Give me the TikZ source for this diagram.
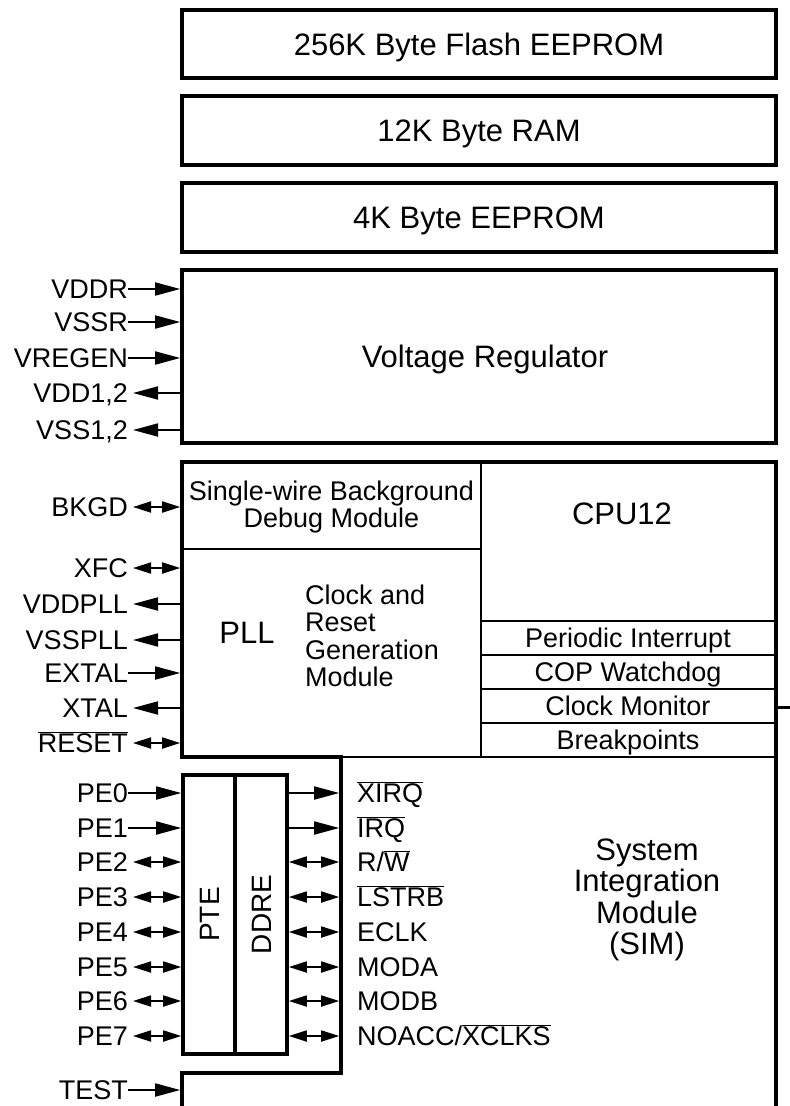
\documentclass[tikz,border=0pt]{standalone}
\usepackage{fontspec}
\setmainfont{Liberation Sans}
\usetikzlibrary{arrows.meta}
\begin{document}
\begin{tikzpicture}[x=1pt,y=-1pt,
  thickbox/.style={draw, line width=3.6pt, inner sep=0pt},
  thinln/.style={line width=2pt},
  outline/.style={line width=3.6pt, line join=miter},
  big/.style={font=\fontsize{31}{31}\selectfont, inner sep=0pt, text height=22.2pt, text depth=0pt},
  sml/.style={font=\fontsize{27}{27}\selectfont, inner sep=0pt, text height=19.3pt, text depth=0pt},
  multi/.style={font=\fontsize{27}{27.5}\selectfont, inner sep=0pt},
  lbl/.style={sml, anchor=east},
  rlbl/.style={sml, anchor=west},
  inarr/.style={line width=1.8pt, -{Triangle[length=25pt,width=13pt]}},
  dblarr/.style={line width=1.8pt, {Triangle[length=18pt,width=11pt]}-{Triangle[length=18pt,width=11pt]}, shorten <=5pt}
]
\useasboundingbox (0,0) rectangle (790,1106);

% memory boxes
\node[thickbox, big, minimum width=594pt, minimum height=68pt] (flash) at (479,44) {256K Byte Flash EEPROM};
\node[thickbox, big, minimum width=594pt, minimum height=69pt] (ram) at (479,130.5) {12K Byte RAM};
\node[thickbox, big, minimum width=594pt, minimum height=69pt] (eeprom) at (479,217.5) {4K Byte EEPROM};
\node[thickbox, minimum width=594pt, minimum height=173pt] (vreg) at (479,356.5) {};
\node[big] (vregtxt) at (485,356.5) {Voltage Regulator};

% voltage regulator pins
\node[lbl] (vddr) at (128,289) {VDDR};
\node[lbl] (vssr) at (128,322) {VSSR};
\node[lbl] (vregen) at (128,358) {VREGEN};
\node[lbl] (vdd) at (128,393) {VDD1,2};
\node[lbl] (vss) at (128,430) {VSS1,2};
\draw[inarr] (vddr.east) -- (vddr.east -| vreg.west);
\draw[inarr] (vssr.east) -- (vssr.east -| vreg.west);
\draw[inarr] (vregen.east) -- (vregen.east -| vreg.west);
\draw[inarr, shorten >=5pt] (vdd.east -| vreg.west) -- (vdd.east);
\draw[inarr, shorten >=5pt] (vss.east -| vreg.west) -- (vss.east);

% main block outline
\coordinate (mtl) at (182,462);
\coordinate (mtr) at (776,462);
\coordinate (mbr) at (776,1106);
\coordinate (mw) at (180.2,600);
\coordinate (simw) at (339.2,900);
\coordinate (stub) at (790,707);
\draw[outline] (182,1106) -- (182,1073) -- (341,1073) -- (341,757) -- (182,757) -- (mtl) -- (mtr) -- (mbr);
\draw[line width=3pt] (776,707) -- (stub);

% inner lines
\draw[thinln] (182,549) -- (481,549);
\draw[thinln] (481,462) -- (481,757);
\foreach \yy in {621,655,689,723} \draw[thinln] (481,\yy) -- (776,\yy);
\draw[thinln] (341,757) -- (776,757);

% region texts
\node[multi, align=center] (dbg) at (331.5,507) {Single-wire Background\\Debug Module};
\node[big] (cpu) at (622,513) {CPU12};
\node[big] (pll) at (247,632) {PLL};
\node[multi, align=left, anchor=west] (crg) at (305,636) {Clock and\\Reset\\Generation\\Module};
\node[sml] (pit) at (628,638) {Periodic Interrupt};
\node[sml] (cop) at (628,672) {COP Watchdog};
\node[sml] (cmon) at (628,706) {Clock Monitor};
\node[sml] (bkpt) at (628,740) {Breakpoints};
\node[font=\fontsize{31}{31.5}\selectfont, inner sep=0pt, align=center] (sim) at (647,900) {System\\Integration\\Module\\(SIM)};

% main block pins
\node[lbl] (bkgd) at (128,507) {BKGD};
\node[lbl] (xfc) at (128,568) {XFC};
\node[lbl] (vddpll) at (128,604) {VDDPLL};
\node[lbl] (vsspll) at (128,640) {VSSPLL};
\node[lbl] (extal) at (128,673) {EXTAL};
\node[lbl] (xtal) at (128,708) {XTAL};
\node[lbl] (reset) at (128,743) {$\overline{\mbox{RESET}}$};
\draw[dblarr] (bkgd.east) -- (bkgd.east -| mw);
\draw[dblarr] (xfc.east) -- (xfc.east -| mw);
\draw[inarr, shorten >=5pt] (vddpll.east -| mw) -- (vddpll.east);
\draw[inarr, shorten >=5pt] (vsspll.east -| mw) -- (vsspll.east);
\draw[inarr] (extal.east) -- (extal.east -| mw);
\draw[inarr, shorten >=5pt] (xtal.east -| mw) -- (xtal.east);
\draw[dblarr] (reset.east) -- (reset.east -| mw);

% port E
\node[thickbox, minimum width=52pt, minimum height=279pt] (pte) at (209,914.5) {};
\node[thickbox, minimum width=52pt, minimum height=279pt] (ddre) at (261,914.5) {};
\node[font=\fontsize{28}{28}\selectfont, inner sep=0pt, text height=20pt, text depth=0pt, rotate=90] (ptetxt) at (pte.center) {PTE};
\node[font=\fontsize{28}{28}\selectfont, inner sep=0pt, text height=20pt, text depth=0pt, rotate=90] (ddretxt) at (ddre.center) {DDRE};

\node[lbl] (pe0) at (128,793) {PE0};
\node[lbl] (pe1) at (128,828) {PE1};
\node[lbl] (pe2) at (128,862) {PE2};
\node[lbl] (pe3) at (128,897) {PE3};
\node[lbl] (pe4) at (128,932) {PE4};
\node[lbl] (pe5) at (128,967) {PE5};
\node[lbl] (pe6) at (128,1001) {PE6};
\node[lbl] (pe7) at (128,1036) {PE7};
\node[lbl] (test) at (128,1090) {TEST};
\draw[inarr] (pe0.east) -- (pe0.east -| pte.west);
\draw[inarr] (pe1.east) -- (pe1.east -| pte.west);
\draw[dblarr] (pe2.east) -- (pe2.east -| pte.west);
\draw[dblarr] (pe3.east) -- (pe3.east -| pte.west);
\draw[dblarr] (pe4.east) -- (pe4.east -| pte.west);
\draw[dblarr] (pe5.east) -- (pe5.east -| pte.west);
\draw[dblarr] (pe6.east) -- (pe6.east -| pte.west);
\draw[dblarr] (pe7.east) -- (pe7.east -| pte.west);
\draw[inarr] (test.east) -- (test.east -| mw);

% SIM signals
\node[rlbl] (xirq) at (357,793) {$\overline{\mbox{XIRQ}}$};
\node[rlbl] (irq) at (357,828) {$\overline{\mbox{IRQ}}$};
\node[rlbl] (rw) at (357,862) {R/$\overline{\mbox{W}}$};
\node[rlbl] (lstrb) at (357,897) {$\overline{\mbox{LSTRB}}$};
\node[rlbl] (eclk) at (357,932) {ECLK};
\node[rlbl] (moda) at (357,967) {MODA};
\node[rlbl] (modb) at (357,1001) {MODB};
\node[rlbl] (noacc) at (357,1036) {NOACC/$\overline{\mbox{XCLKS}}$};
\draw[inarr] (xirq.west -| ddre.east) -- (xirq.west -| simw);
\draw[inarr] (irq.west -| ddre.east) -- (irq.west -| simw);
\draw[dblarr, shorten <=0pt] (rw.west -| ddre.east) -- (rw.west -| simw);
\draw[dblarr, shorten <=0pt] (lstrb.west -| ddre.east) -- (lstrb.west -| simw);
\draw[dblarr, shorten <=0pt] (eclk.west -| ddre.east) -- (eclk.west -| simw);
\draw[dblarr, shorten <=0pt] (moda.west -| ddre.east) -- (moda.west -| simw);
\draw[dblarr, shorten <=0pt] (modb.west -| ddre.east) -- (modb.west -| simw);
\draw[dblarr, shorten <=0pt] (noacc.west -| ddre.east) -- (noacc.west -| simw);
\end{tikzpicture}
\end{document}
